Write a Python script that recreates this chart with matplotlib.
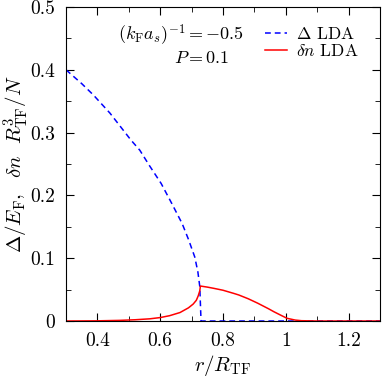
import matplotlib
matplotlib.use("Agg")
import matplotlib.pyplot as plt
from matplotlib.ticker import MultipleLocator

plt.rcParams["mathtext.fontset"] = "cm"
plt.rcParams["font.family"] = "serif"
plt.rcParams["font.serif"] = ["cmr10", "DejaVu Serif"]
plt.rcParams["axes.formatter.use_mathtext"] = True

# Gap Delta (LDA)
r_gap = [0.30, 0.35, 0.387, 0.44, 0.507, 0.535, 0.565, 0.603, 0.637, 0.67,
         0.69, 0.71, 0.72, 0.726, 0.73, 0.80, 1.00, 1.30]
gap = [0.400, 0.378, 0.360, 0.331, 0.288, 0.272, 0.248, 0.219, 0.187, 0.155,
       0.130, 0.102, 0.078, 0.055, 0.0, 0.0, 0.0, 0.0]

# Density difference delta n (LDA)
r_dn = [0.30, 0.40, 0.47, 0.52, 0.567, 0.60, 0.63, 0.663, 0.69, 0.705, 0.715, 0.721, 0.726, 0.728,
        0.75, 0.771, 0.80, 0.834, 0.85, 0.88, 0.91, 0.945, 0.962, 0.985, 1.004, 1.03, 1.05, 1.10, 1.30]
dn = [0.0, 0.0003, 0.001, 0.002, 0.0035, 0.0055, 0.0085, 0.0135, 0.021, 0.027, 0.033, 0.040, 0.048, 0.0557,
      0.054, 0.052, 0.049, 0.044, 0.0415, 0.0355, 0.0285, 0.0195, 0.0148, 0.009, 0.0043, 0.0015, 0.0005, 0.0, 0.0]

fig = plt.figure(figsize=(3.82, 3.77), dpi=100)
ax = fig.add_axes([0.1728, 0.1485, 0.822, 0.8329])

ax.plot(r_gap, gap, color="#0000ff", lw=1.1, ls=(0, (3.8, 2.6)), label=r"$\Delta$ LDA")
ax.plot(r_dn, dn, color="#ff0000", lw=1.1, label=r"$\delta n$ LDA")

ax.set_xlim(0.3, 1.3)
ax.set_ylim(0, 0.5)
ax.xaxis.set_minor_locator(MultipleLocator(0.1))
ax.yaxis.set_minor_locator(MultipleLocator(0.05))
ax.set_xticks([0.4, 0.6, 0.8, 1.0, 1.2])
ax.set_xticklabels(["0.4", "0.6", "0.8", "1", "1.2"])
ax.set_yticks([0, 0.1, 0.2, 0.3, 0.4, 0.5])
ax.set_yticklabels(["0", "0.1", "0.2", "0.3", "0.4", "0.5"])
ax.tick_params(which="both", direction="in", top=True, right=True, labelsize=14, pad=8)
ax.tick_params(which="major", length=6)
ax.tick_params(which="minor", length=3.5)

ax.set_xlabel(r"$r/R_{\rm TF}$", fontsize=15)
ax.set_ylabel(r"$\Delta/E_{\rm F},\ \ \delta n\ \ R_{\rm TF}^3/N$", fontsize=15)
ax.xaxis.set_label_coords(0.5, -0.103)
ax.yaxis.set_label_coords(-0.112, 0.5)

ax.text(0.367, 0.911, r"$(k_{\rm F}a_s)^{-1}=-0.5$", transform=ax.transAxes,
        ha="center", va="center", fontsize=13)
ax.text(0.433, 0.838, r"$P=0.1$", transform=ax.transAxes,
        ha="center", va="center", fontsize=13)

ax.legend(loc="upper right", bbox_to_anchor=(0.975, 0.985), frameon=False, fontsize=12.5,
          handlelength=1.3, handletextpad=0.5, labelspacing=0.1, borderpad=0.3)

fig.savefig("out.png", dpi=100)
